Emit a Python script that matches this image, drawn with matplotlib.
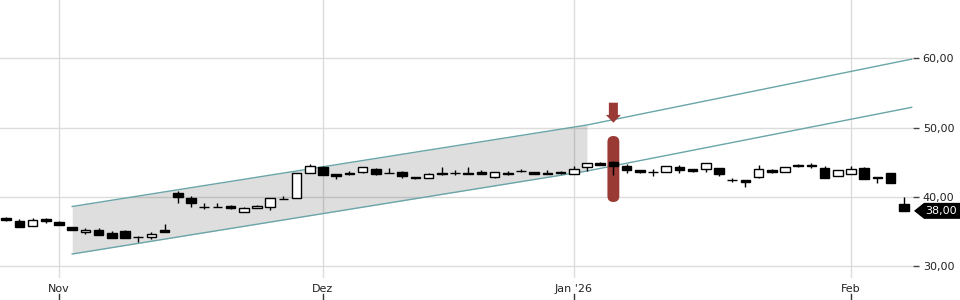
import matplotlib
matplotlib.use("Agg")
import matplotlib.pyplot as plt
import numpy as np
import pandas as pd
from matplotlib.patches import Rectangle, Polygon, FancyBboxPatch
from matplotlib.transforms import ScaledTranslation, blended_transform_factory

# ---------------- data ----------------
dates = pd.bdate_range("2025-10-28", "2026-02-06")
holidays = pd.to_datetime(["2025-12-24", "2025-12-25", "2025-12-26",
                           "2025-12-31", "2026-01-01"])
dates = dates[~dates.isin(holidays)]

opens = [37.0, 36.5, 35.8, 36.8, 36.4, 35.6, 34.9, 35.2, 34.85, 35.1,
         34.2, 34.2, 35.3, 40.6, 39.9, 38.6, 38.5, 38.7, 37.9, 38.4,
         38.5, 39.7, 39.8, 43.4, 44.4, 43.3, 43.4, 43.55, 44.1, 43.5,
         43.65, 42.9, 42.7, 43.4, 43.5, 43.5, 43.65, 42.85, 43.4, 43.8,
         43.55, 43.5, 43.55, 43.3, 44.3, 44.9, 45.0, 44.45, 43.9, 43.55,
         43.65, 44.35, 44.0, 44.05, 44.15, 42.45, 42.45, 42.85, 43.9, 43.65,
         44.6, 44.6, 44.15, 43.05, 43.3, 44.25, 42.9, 43.4, 38.95]
highs = [37.1, 36.8, 37.0, 37.0, 36.6, 35.7, 35.5, 35.5, 35.1, 35.3,
         34.3, 35.0, 36.1, 40.9, 40.2, 39.2, 39.1, 38.8, 38.5, 38.9,
         39.8, 40.2, 43.4, 44.8, 44.5, 43.3, 43.8, 44.4, 44.2, 44.2,
         43.7, 42.9, 43.5, 44.3, 43.9, 44.3, 43.9, 43.6, 43.75, 44.05,
         43.6, 43.9, 43.7, 44.5, 44.85, 45.0, 45.2, 44.75, 43.9, 44.0,
         44.5, 44.6, 44.05, 44.85, 44.2, 42.8, 42.5, 44.6, 44.1, 44.4,
         44.75, 44.9, 44.5, 43.95, 44.45, 44.4, 42.9, 43.4, 39.95]
lows = [36.6, 35.6, 35.8, 36.2, 35.9, 35.2, 34.6, 34.5, 34.1, 34.1,
        33.5, 33.9, 34.9, 39.2, 38.5, 38.2, 38.5, 38.3, 37.9, 38.4,
        38.1, 39.7, 39.8, 43.4, 43.2, 42.6, 43.2, 43.5, 43.2, 43.4,
        42.7, 42.6, 42.7, 43.2, 43.2, 43.3, 43.3, 42.8, 43.2, 43.6,
        43.3, 43.3, 43.3, 43.3, 43.75, 44.6, 43.2, 43.4, 43.4, 43.05,
        43.6, 43.4, 43.55, 43.65, 43.1, 42.1, 41.5, 42.8, 43.4, 43.65,
        44.3, 44.2, 42.8, 43.05, 43.3, 42.6, 42.0, 41.95, 38.0]
closes = [36.7, 35.6, 36.7, 36.5, 35.9, 35.2, 35.3, 34.5, 34.1, 34.1,
          34.22, 34.7, 34.9, 40.05, 39.2, 38.6, 38.5, 38.4, 38.4, 38.7,
          39.8, 39.75, 43.4, 44.5, 43.2, 43.1, 43.3, 44.3, 43.3, 43.4,
          43.07, 42.7, 43.3, 43.25, 43.5, 43.35, 43.3, 43.55, 43.3, 43.7,
          43.3, 43.35, 43.5, 44.0, 44.85, 44.6, 44.45, 43.9, 43.55, 43.55,
          44.45, 43.9, 43.8, 44.85, 43.3, 42.45, 42.1, 44.05, 43.65, 44.35,
          44.45, 44.45, 42.8, 43.9, 44.05, 42.6, 42.7, 42.0, 38.0]

month_labels = ["Nov", "Dez", "Jan '26", "Feb"]
y_ticks = [30, 40, 50, 60]

# trend channel (bar index, value)
chan_idx = [5, 44, 68.6]
chan_upper = [38.63, 50.39, 59.9]
chan_lower = [31.77, 43.75, 52.94]

signal_idx = 46
signal_low, signal_high = 39.28, 48.8
arrow_tip = 50.72

last_price = closes[-1]

# ---------------- figure ----------------
fig = plt.figure(figsize=(9.6, 3.0), dpi=100)
ax = fig.add_axes([0, 22 / 300, 913 / 960, 278 / 300])
ax.set_xlim(-0.47, 68.7)
ax.set_ylim(28.31, 68.43)
for s in ax.spines.values():
    s.set_visible(False)

n = len(dates)
x = np.arange(n)
month_idx = [i for i in range(1, n) if dates[i].month != dates[i - 1].month]

ax.set_xticks(month_idx)
ax.set_xticklabels(month_labels)
ax.set_yticks(y_ticks)
ax.set_yticklabels([f"{v:.2f}".replace(".", ",") for v in y_ticks])
ax.yaxis.tick_right()
ax.grid(True, color="#dcdcdc", lw=1)
ax.set_axisbelow(True)
ax.tick_params(axis="y", length=4, width=1, color="#444444", pad=3,
               labelsize=8, labelcolor="#222222")
ax.tick_params(axis="x", length=0, pad=4, labelsize=8, labelcolor="#222222")

# x tick marks below the labels
bx = blended_transform_factory(ax.transData, ax.transAxes)
for m in month_idx:
    ax.plot([m, m], [-0.058, -0.082], transform=bx, color="#333333",
            lw=1, clip_on=False)

# channel
ax.fill_between(chan_idx[:2], chan_lower[:2], chan_upper[:2],
                color="black", alpha=0.13, lw=0, zorder=1.5)
ax.plot(chan_idx, chan_upper, color="#69a5a9", lw=1, zorder=2)
ax.plot(chan_idx, chan_lower, color="#69a5a9", lw=1, zorder=2)

# signal marker
red = "#9a3a34"
rect = FancyBboxPatch((signal_idx - 0.45, signal_low), 0.9,
                      signal_high - signal_low,
                      boxstyle="round,pad=0,rounding_size=0.45",
                      mutation_aspect=1.9, facecolor=red, edgecolor="none",
                      zorder=2.5)
ax.add_patch(rect)
arrow_tr = fig.dpi_scale_trans + ScaledTranslation(signal_idx, arrow_tip, ax.transData)
arrow = Polygon([(0, 0), (-0.075, 0.078), (-0.045, 0.078), (-0.045, 0.2),
                 (0.045, 0.2), (0.045, 0.078), (0.075, 0.078)],
                closed=True, transform=arrow_tr, facecolor=red,
                edgecolor="none", zorder=4, clip_on=False)
ax.add_patch(arrow)

# candles
w = 0.72
for i in range(n):
    o, h, l, c = opens[i], highs[i], lows[i], closes[i]
    ax.vlines(x[i], l, h, color="black", lw=1, zorder=3)
    up = c >= o
    ax.add_patch(Rectangle((x[i] - w / 2, min(o, c)), w, abs(c - o),
                           facecolor="white" if up else "black",
                           edgecolor="black", lw=1, zorder=3.5))

# last price label
base = blended_transform_factory(ax.transAxes, ax.transData)
lab_tr = fig.dpi_scale_trans + ScaledTranslation(1.0, last_price, base)
lab = Polygon([(0.01, 0), (0.11, 0.08), (0.48, 0.08), (0.48, -0.08),
               (0.11, -0.08)], closed=True, transform=lab_tr,
              facecolor="black", edgecolor="none", clip_on=False, zorder=5)
ax.add_patch(lab)
ax.annotate(f"{last_price:.2f}".replace(".", ","), xy=(1.0, last_price),
            xycoords=base, xytext=(20.5, 0), textcoords="offset points",
            ha="center", va="center", color="white", fontsize=8, zorder=6,
            annotation_clip=False)

fig.savefig("out.png", dpi=100, facecolor="white")
